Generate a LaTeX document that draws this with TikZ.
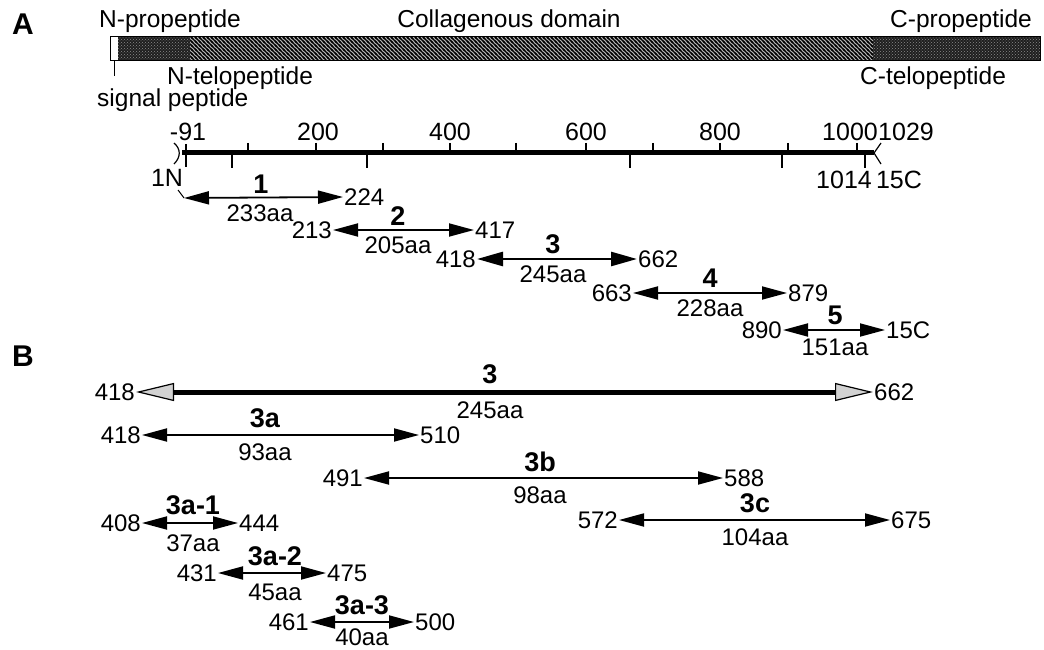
\documentclass[tikz,border=0pt]{standalone}
\usepackage{fontspec}
\setmainfont{Liberation Sans}
\usetikzlibrary{arrows.meta,patterns}
\pgfdeclarepatternformonly{densehatch}{\pgfqpoint{-1pt}{-1pt}}{\pgfqpoint{5pt}{5pt}}{\pgfqpoint{4pt}{4pt}}{%
  \pgfsetlinewidth{1.3pt}%
  \pgfpathmoveto{\pgfqpoint{0pt}{4pt}}\pgfpathlineto{\pgfqpoint{4pt}{0pt}}%
  \pgfpathmoveto{\pgfqpoint{-1pt}{1pt}}\pgfpathlineto{\pgfqpoint{1pt}{-1pt}}%
  \pgfpathmoveto{\pgfqpoint{3pt}{5pt}}\pgfpathlineto{\pgfqpoint{5pt}{3pt}}%
  \pgfusepath{stroke}}
\begin{document}
\begin{tikzpicture}[x=1pt,y=-1pt,
  every node/.style={font=\fontsize{24}{26}\selectfont, inner sep=1pt},
  toplbl/.style={font=\fontsize{24.5}{26}\selectfont},
  axlbl/.style={font=\fontsize{25}{27}\selectfont},
  num/.style={font=\fontsize{27}{29}\selectfont\bfseries},
  panel/.style={font=\fontsize{30}{32}\selectfont\bfseries},
  tipA/.tip={Triangle[length=25pt,width=13pt]},
  frag/.style={line width=1.8pt, {tipA}-{tipA}},
  fragthick/.style={line width=2.6pt, {Triangle[length=26pt,width=14pt]}-{Triangle[length=26pt,width=14pt]}},
  bigfrag/.style={line width=5pt, {Triangle[length=38pt,width=18pt,fill=gray!35,line width=1.2pt]}-{Triangle[length=38pt,width=18pt,fill=gray!35,line width=1.2pt]}},
  dark/.style={fill=black!88},
  speckle/.style={pattern=crosshatch dots, pattern color=black!45},
]
\useasboundingbox (0,0) rectangle (1044,650);

% panel letters
\node[panel] (pA) at (23,24) {A};
\node[panel] (pB) at (23,356) {B};

% ---------- domain bar ----------
\fill[white] (110,37) rectangle (118,61);
\fill[dark] (118,37) rectangle (190,61);
\fill[speckle] (118,37) rectangle (190,61);
\fill[black!30] (190,37) rectangle (873,61);
\fill[pattern=densehatch] (190,37) rectangle (873,61);
\fill[dark] (873,37) rectangle (1040,61);
\fill[speckle] (873,37) rectangle (1040,61);
\draw[line width=1pt] (110,37) rectangle (1040,61);
\draw[line width=1pt] (114,61) -- (114,76);

\node[toplbl] (tNpro) at (170,21) {N-propeptide};
\node[toplbl] (tColl) at (509,21) {Collagenous domain};
\node[toplbl] (tCpro) at (961,21) {C-propeptide};
\node[toplbl,anchor=west] (tNtelo) at (166,78) {N-telopeptide};
\node[toplbl,anchor=west] (tsig) at (96,100) {signal peptide};
\node[toplbl,anchor=west] (tCtelo) at (859,78) {C-telopeptide};

% ---------- axis ----------
\draw[line width=5pt] (182,153) -- (874,153);
\draw[line width=1.2pt] (174,143) .. controls (181,149) and (181,157) .. (174,164);
\draw[line width=1.2pt] (881,143) -- (874,153) -- (881,164);
\draw[line width=1.5pt] (186,144) -- (186,167);
\foreach \x in {248,316,383,450,516,586,653,720,788,857}
  \draw[line width=1.5pt] (\x,143) -- (\x,153);
\foreach \x in {232,367,630,782,865}
  \draw[line width=1.5pt] (\x,153) -- (\x,168);
\node[axlbl] (x91) at (188,132) {-91};
\node[axlbl] (x200) at (318,132) {200};
\node[axlbl] (x400) at (450,132) {400};
\node[axlbl] (x600) at (586,132) {600};
\node[axlbl] (x800) at (720,132) {800};
\node[axlbl] (x1000) at (850,132) {1000};
\node[axlbl] (x1029) at (906,132) {1029};
\node[axlbl] (x1N) at (167,178) {1N};
\node[axlbl] (x1014) at (844,180) {1014};
\node[axlbl] (x15C) at (899,180) {15C};

% ---------- panel A fragments ----------
\coordinate (s1) at (184,198);
\draw[line width=1pt] (178,190) -- (s1);
\node[anchor=west] (e1) at (343,197) {224};
\draw[frag] (s1) -- (e1.west);
\node[num] (n1) at (261,184) {1};
\node (l1) at (260,213) {233aa};

\node[anchor=east] (b2) at (333,230) {213};
\node[anchor=west] (e2) at (474,230) {417};
\draw[frag] (b2.east) -- (e2.west);
\node[num] (n2) at (398,216) {2};
\node (l2) at (398,245) {205aa};

\node[anchor=east] (b3) at (477,259) {418};
\node[anchor=west] (e3) at (637,259) {662};
\draw[fragthick] (b3.east) -- (e3.west);
\node[num] (n3) at (553,244) {3};
\node (l3) at (553,274) {245aa};

\node[anchor=east] (b4) at (633,293) {663};
\node[anchor=west] (e4) at (787,293) {879};
\draw[frag] (b4.east) -- (e4.west);
\node[num] (n4) at (710,278) {4};
\node (l4) at (710,308) {228aa};

\node[anchor=east] (b5) at (783,330) {890};
\node[anchor=west] (e5) at (885,330) {15C};
\draw[frag] (b5.east) -- (e5.west);
\node[num] (n5) at (835,315) {5};
\node (l5) at (835,347) {151aa};

% ---------- panel B fragments ----------
\node[anchor=east] (bB3) at (136,392) {418};
\node[anchor=west] (eB3) at (873,392) {662};
\draw[bigfrag] (bB3.east) -- (eB3.west);
\node[num] (nB3) at (490,374) {3};
\node (lB3) at (490,410) {245aa};

\node[anchor=east] (b3a) at (142,435) {418};
\node[anchor=west] (e3a) at (419,435) {510};
\draw[frag] (b3a.east) -- (e3a.west);
\node[num] (n3a) at (265,418) {3a};
\node (l3a) at (265,452) {93aa};

\node[anchor=east] (b3b) at (364,478) {491};
\node[anchor=west] (e3b) at (723,478) {588};
\draw[frag] (b3b.east) -- (e3b.west);
\node[num] (n3b) at (540,462) {3b};
\node (l3b) at (540,495) {98aa};

\node[anchor=east] (b3c) at (619,520) {572};
\node[anchor=west] (e3c) at (890,520) {675};
\draw[frag] (b3c.east) -- (e3c.west);
\node[num] (n3c) at (755,503) {3c};
\node (l3c) at (755,537) {104aa};

\node[anchor=east] (b3a1) at (142,523) {408};
\node[anchor=west] (e3a1) at (238,523) {444};
\draw[frag] (b3a1.east) -- (e3a1.west);
\node[num] (n3a1) at (193,505) {3a-1};
\node (l3a1) at (193,543) {37aa};

\node[anchor=east] (b3a2) at (218,573) {431};
\node[anchor=west] (e3a2) at (326,573) {475};
\draw[frag] (b3a2.east) -- (e3a2.west);
\node[num] (n3a2) at (275,556) {3a-2};
\node (l3a2) at (275,592) {45aa};

\node[anchor=east] (b3a3) at (310,622) {461};
\node[anchor=west] (e3a3) at (414,622) {500};
\draw[frag] (b3a3.east) -- (e3a3.west);
\node[num] (n3a3) at (362,605) {3a-3};
\node (l3a3) at (362,637) {40aa};
\end{tikzpicture}
\end{document}
